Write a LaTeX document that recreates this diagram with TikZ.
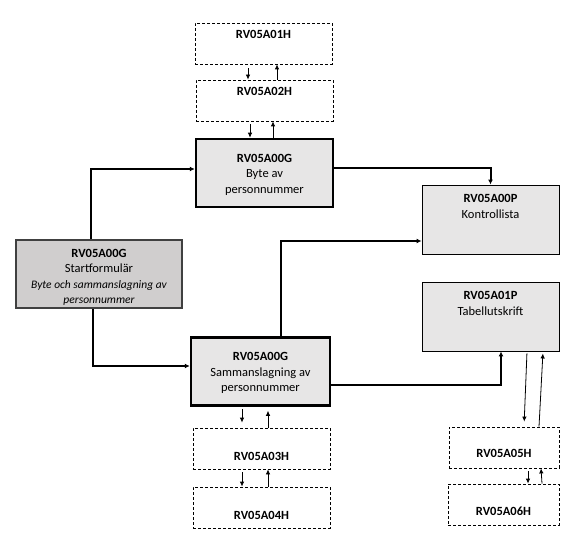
\documentclass[tikz,border=0pt]{standalone}
\usepackage{fontspec}
\setmainfont{Carlito}
\usetikzlibrary{arrows.meta}
\usepackage{xcolor}
\definecolor{boxgray}{RGB}{231,230,230}
\definecolor{startgray}{RGB}{208,206,206}
\definecolor{startline}{RGB}{64,64,64}

\begin{document}
\begin{tikzpicture}[x=1pt,y=-1pt,
  every node/.style={font=\fontsize{12.5}{15.5}\selectfont},
  hbox/.style={draw,dash pattern=on 3pt off 2pt,line width=0.8pt,
    minimum width=137pt,minimum height=41pt,inner sep=0pt},
  gbox/.style={draw,line width=2.5pt,fill=boxgray,
    minimum width=137pt,minimum height=68pt,inner sep=0pt},
  pbox/.style={draw,line width=0.9pt,fill=boxgray,
    minimum width=137pt,minimum height=69pt,inner sep=0pt},
  txt/.style={align=center,anchor=north,inner sep=0pt},
  flow/.style={line width=2pt,-{Latex[length=5pt,width=5pt]}},
  thin/.style={line width=0.8pt,-{Latex[length=5pt,width=4.5pt]}},
]
  \useasboundingbox (0,0) rectangle (585,545);

  \node[hbox] (a01h) at (263.5,43.5) {};
  \node[hbox] (a02h) at (264.5,100.5) {};
  \node[gbox] (byte) at (264.5,173) {};
  \node[draw=startline,line width=2.4pt,fill=startgray,minimum width=166pt,
    minimum height=68pt,inner sep=0pt] (start) at (99,274) {};
  \node[gbox,minimum width=139pt] (samman) at (260.5,371.5) {};
  \node[pbox] (kontroll) at (490.5,219.5) {};
  \node[pbox] (tabell) at (490.5,316.5) {};
  \node[hbox] (a03h) at (261.5,448.5) {};
  \node[hbox] (a04h) at (261.5,507.5) {};
  \node[hbox,minimum width=110pt] (a05h) at (504,447.5) {};
  \node[hbox,minimum width=111pt] (a06h) at (503.5,504.5) {};

  \node[txt] (a01h-t) at ([yshift=-8pt]a01h.north) {\textbf{RV05A01H}};
  \node[txt] (a02h-t) at ([yshift=-8pt]a02h.north) {\textbf{RV05A02H}};
  \node[txt] (byte-t) at ([yshift=-16pt]byte.north) {\textbf{RV05A00G}\\Byte av\\personnummer};
  \node[txt] (start-t) at ([yshift=-10pt]start.north) {\textbf{RV05A00G}\\Startformulär\\
    {\fontsize{11.5}{14}\selectfont\itshape Byte och sammanslagning av}\\
    {\fontsize{11.5}{14}\selectfont\itshape personnummer}};
  \node[txt] (samman-t) at ([yshift=-16pt]samman.north) {\textbf{RV05A00G}\\Sammanslagning av\\personnummer};
  \node[txt] (kontroll-t) at ([yshift=-10pt]kontroll.north) {\textbf{RV05A00P}\\Kontrollista};
  \node[txt] (tabell-t) at ([yshift=-10pt]tabell.north) {\textbf{RV05A01P}\\Tabellutskrift};
  \node[txt] (a03h-t) at ([yshift=-24pt]a03h.north) {\textbf{RV05A03H}};
  \node[txt] (a04h-t) at ([yshift=-24pt]a04h.north) {\textbf{RV05A04H}};
  \node[txt] (a05h-t) at ([yshift=-22pt]a05h.north) {\textbf{RV05A05H}};
  \node[txt] (a06h-t) at ([yshift=-23pt]a06h.north) {\textbf{RV05A06H}};

  \draw[flow] ([xshift=-8pt]start.north) |- ([yshift=4pt]byte.west);
  \draw[flow] ([xshift=-6.5pt]start.south) |- ([yshift=5.5pt]samman.west);
  \draw[flow] ([yshift=5pt]byte.east) -| (kontroll.north);
  \draw[flow] ([xshift=20.5pt]samman.north) |- ([yshift=-21.5pt]kontroll.west);
  \draw[flow] ([yshift=-13.5pt]samman.east) -| ([xshift=10.5pt]tabell.south);

  \draw[thin,shorten <=4pt] ([xshift=-15.5pt]a01h.south) -- ([xshift=-16.5pt]a02h.north);
  \draw[thin] ([xshift=12.5pt]a02h.north) -- ([xshift=13.5pt]a01h.south);
  \draw[thin,shorten <=3pt] ([xshift=-14.5pt]a02h.south) -- ([xshift=-14.5pt]byte.north);
  \draw[thin] ([xshift=8.5pt]byte.north) -- ([xshift=8.5pt]a02h.south);
  \draw[thin,shorten <=2pt,shorten >=5pt] ([xshift=-18.5pt]samman.south) -- ([xshift=-19.5pt]a03h.north);
  \draw[thin,shorten >=4pt] ([xshift=6.5pt]a03h.north) -- ([xshift=7.5pt]samman.south);
  \draw[thin,shorten <=3pt] ([xshift=-19.5pt]a03h.south) -- ([xshift=-19.5pt]a04h.north);
  \draw[thin] ([xshift=6.5pt]a04h.north) -- ([xshift=6.5pt]a03h.south);
  \draw[thin,shorten <=2pt,shorten >=5pt] ([xshift=36.5pt]tabell.south) -- ([xshift=20pt]a05h.north);
  \draw[thin,shorten >=2pt] ([xshift=35pt]a05h.north) -- ([xshift=52.5pt]tabell.south);
  \draw[thin,shorten <=3pt] ([xshift=24pt]a05h.south) -- ([xshift=24.5pt]a06h.north);
  \draw[thin] ([xshift=38.5pt]a06h.north) -- ([xshift=37pt]a05h.south);
\end{tikzpicture}
\end{document}
